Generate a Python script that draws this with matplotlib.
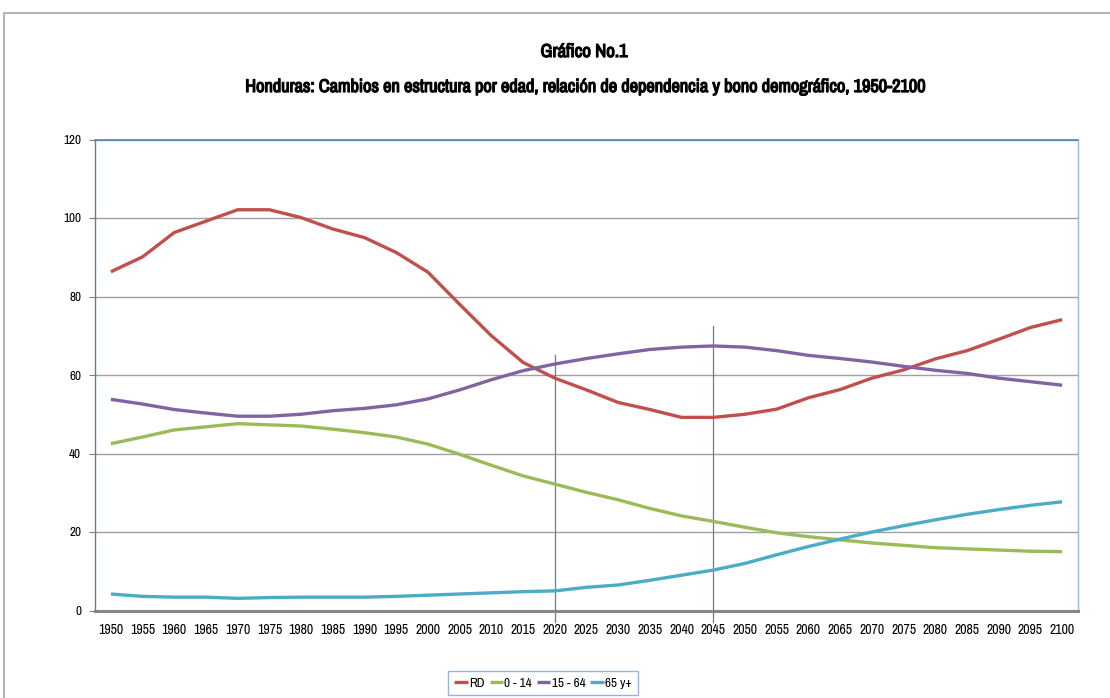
import matplotlib
matplotlib.use("Agg")
import matplotlib.pyplot as plt
import matplotlib.patheffects as pe
from matplotlib.patches import Rectangle

plt.rcParams['font.family'] = ['Archivo Narrow', 'Liberation Sans', 'DejaVu Sans']

years = list(range(1950, 2101, 5))

rd = [86.3, 90.1, 96.3, 99.2, 102.1, 102.1, 100.1, 97.2, 95.0, 91.2, 86.2, 78.0, 70.0, 63.2, 59.2,
      56.2, 53.0, 51.2, 49.2, 49.2, 50.0, 51.3, 54.2, 56.3, 59.2, 61.3, 64.1, 66.2, 69.1, 72.1, 74.1]
age_0_14 = [42.5, 44.2, 46.0, 46.8, 47.6, 47.3, 47.0, 46.2, 45.3, 44.2, 42.4, 39.8, 37.0, 34.3, 32.2,
            30.1, 28.2, 26.0, 24.1, 22.7, 21.2, 19.8, 18.8, 18.0, 17.2, 16.6, 16.0, 15.7, 15.4, 15.1, 15.0]
age_15_64 = [53.8, 52.6, 51.2, 50.3, 49.5, 49.5, 50.0, 50.9, 51.5, 52.4, 53.9, 56.2, 58.8, 61.1, 62.8,
             64.2, 65.4, 66.5, 67.1, 67.4, 67.1, 66.2, 65.0, 64.2, 63.3, 62.2, 61.2, 60.4, 59.2, 58.3, 57.4]
age_65 = [4.2, 3.6, 3.4, 3.4, 3.1, 3.3, 3.4, 3.4, 3.4, 3.6, 3.9, 4.2, 4.5, 4.8, 5.0,
          5.9, 6.5, 7.7, 9.0, 10.3, 12.0, 14.2, 16.3, 18.2, 20.0, 21.6, 23.1, 24.5, 25.7, 26.8, 27.7]

series = [("RD", rd, "#C0504D"),
          ("0 - 14", age_0_14, "#9BBB59"),
          ("15 - 64", age_15_64, "#8064A2"),
          ("65 y+", age_65, "#4BACC6")]

# bono demografico markers: (year, top of line)
markers = [(2020, 65.2), (2045, 72.4)]

fig = plt.figure(figsize=(11.1, 6.98), dpi=100)
W, H = 1110, 698

# outer chart frame
fig.patches.append(Rectangle((4 / W, -0.1), 1.2, (H - 13) / H + 0.1, transform=fig.transFigure,
                             fill=False, edgecolor="#A6A6A6", linewidth=1.2))

ax = fig.add_axes([95 / W, (H - 610.5) / H, 983 / W, 471 / H])
x = list(range(len(years)))
for name, vals, col in series:
    ax.plot(x, vals, color=col, linewidth=2.4, label=name, solid_capstyle="butt")

for yr, top in markers:
    i = years.index(yr)
    ax.plot([i, i], [-3, top], color="#4F81BD", linewidth=0.9, clip_on=False, zorder=1)

ax.set_xlim(-0.5, len(years) - 0.5)
ax.set_ylim(0, 120)
ax.set_yticks(range(0, 121, 20))
ax.set_xticks(x)
ax.set_xticklabels([str(y) for y in years])
ax.tick_params(axis="x", length=0, labelsize=10, pad=9, colors="#000000")
ax.tick_params(axis="y", length=4, width=0.8, color="#7F7F7F", labelsize=9.5, pad=6)
ax.grid(axis="y", color="#A0A0A0", linewidth=1.0)
ax.set_axisbelow(True)
ax.spines["bottom"].set_color("#868686")
ax.spines["bottom"].set_linewidth(2.2)
ax.spines["left"].set_color("#4F81BD")
ax.spines["left"].set_linewidth(1.0)
ax.spines["top"].set_color("#4F81BD")
ax.spines["top"].set_linewidth(1.2)
ax.spines["right"].set_color("#9DB9E0")
ax.spines["right"].set_linewidth(1.0)

bold = [pe.withStroke(linewidth=0.9, foreground="black")]
fig.text(584 / W, 1 - 52 / H, "Gráfico No.1", ha="center", va="center",
         fontsize=13.5, path_effects=bold)
fig.text(585 / W, 1 - 87 / H,
         "Honduras: Cambios en estructura por edad, relación de dependencia y bono demográfico, 1950-2100",
         ha="center", va="center", fontsize=13.2, path_effects=bold)

leg = fig.legend(loc="center", bbox_to_anchor=(543 / W, 1 - 683 / H), ncol=4, frameon=True,
                 fancybox=False, fontsize=9.5, handlelength=1.0, handletextpad=0.1,
                 columnspacing=0.4, borderpad=0.45, borderaxespad=0)
leg.get_frame().set_edgecolor("#7DA1D4")
leg.get_frame().set_linewidth(1.0)

fig.savefig("out.png", dpi=100)
